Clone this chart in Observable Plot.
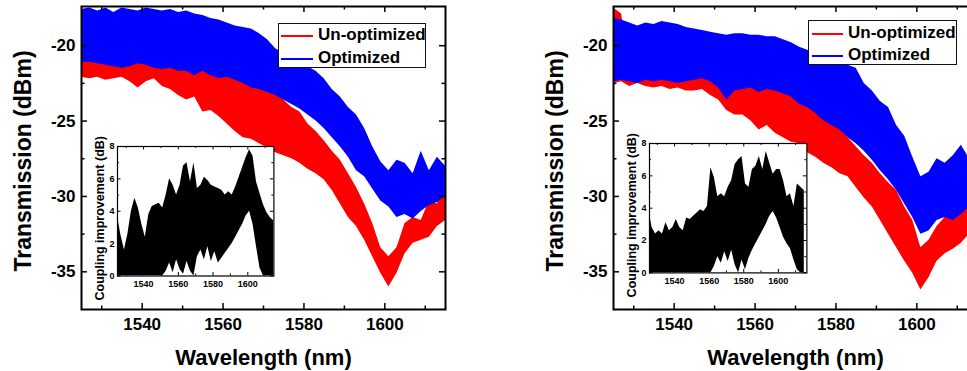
<!DOCTYPE html>
<html><head><meta charset="utf-8">
<script src="https://cdn.jsdelivr.net/npm/d3@7"></script>
<script src="https://cdn.jsdelivr.net/npm/@observablehq/plot@0.6"></script>
<style>
html,body{margin:0;padding:0;background:#fff;}
#wrap{position:relative;width:967px;height:371px;overflow:hidden;background:#fff;font-family:"Liberation Sans",Arial,Helvetica,sans-serif;}
#wrap svg{position:absolute;overflow:visible;}
.legend{position:absolute;background:#fff;border:1.5px solid #111;box-sizing:border-box;}
.legend .ln{position:absolute;height:2px;}
.legend .lb{position:absolute;font-size:17px;font-weight:bold;line-height:20px;color:#000;white-space:nowrap;}
</style></head>
<body><div id="wrap"></div>
<script>
// ---------------- data ----------------
const wavelength = [1525,1527,1529,1531,1533,1535,1537,1539,1541,1543,1545,1547,1549,1551,1553,1555,1557,1559,1561,1563,1565,1567,1569,1571,1573,1575,1577,1579,1581,1583,1585,1587,1589,1591,1593,1595,1597,1599,1601,1603,1605,1607,1609,1611,1613,1615];

// left panel, Un-optimized (red): upper / lower edge of the noisy trace (dBm)
const leftUnoptHi = [-20.8,-20.8,-20.9,-21.0,-21.1,-21.2,-21.1,-20.9,-21.0,-21.2,-21.3,-21.2,-21.4,-21.4,-21.7,-21.4,-21.7,-21.9,-21.8,-22.0,-22.2,-22.5,-22.6,-22.9,-23.1,-23.6,-24.1,-24.4,-25.2,-25.7,-26.3,-27.0,-27.6,-28.5,-29.4,-30.5,-31.8,-33.4,-34.0,-33.4,-31.8,-31.4,-31.6,-30.3,-30.5,-28.5];
const leftUnoptLo = [-22.1,-22.2,-22.1,-22.3,-22.2,-22.1,-22.4,-22.8,-22.4,-22.2,-22.7,-22.9,-23.3,-23.6,-23.4,-24.4,-24.3,-24.7,-25.2,-25.7,-26.1,-26.2,-26.5,-26.8,-27.1,-27.3,-27.5,-27.8,-28.2,-28.5,-28.9,-29.6,-30.5,-31.4,-32.0,-32.9,-34.0,-35.1,-36.0,-35.1,-33.8,-33.1,-32.9,-32.7,-32.0,-31.6];
// left panel, Optimized (blue)
const leftOptHi = [-17.6,-17.5,-17.7,-17.5,-17.8,-17.5,-17.6,-17.7,-17.5,-17.6,-17.7,-17.6,-17.8,-17.7,-17.9,-18.0,-18.2,-18.3,-18.5,-18.7,-18.8,-18.9,-19.2,-19.6,-20.2,-20.5,-20.8,-21.1,-21.4,-21.7,-22.2,-22.9,-23.4,-24.1,-24.6,-25.5,-26.7,-27.7,-28.3,-27.6,-27.8,-28.5,-27.0,-28.3,-27.4,-28.0];
const leftOptLo = [-21.1,-21.1,-21.2,-21.3,-21.4,-21.5,-21.4,-21.2,-21.3,-21.5,-21.6,-21.5,-21.7,-21.7,-22.0,-21.7,-22.0,-22.2,-22.1,-22.3,-22.5,-22.8,-22.9,-23.1,-23.3,-23.6,-23.9,-24.2,-24.6,-25.0,-25.5,-26.1,-26.7,-27.4,-28.3,-28.7,-29.5,-30.3,-30.7,-31.4,-31.2,-31.5,-31.0,-30.6,-30.4,-30.0];

// right panel, Un-optimized (red)
const rightUnoptHi = [-17.5,-17.9,-21.5,-21.8,-21.9,-21.7,-21.8,-21.9,-21.8,-21.7,-21.4,-21.4,-21.8,-22.0,-22.6,-22.5,-22.3,-22.4,-22.8,-22.5,-22.5,-22.9,-23.2,-23.3,-23.6,-24.1,-24.5,-25.0,-25.5,-26.1,-26.7,-27.3,-27.8,-28.5,-29.1,-29.6,-30.7,-31.6,-33.4,-32.9,-32.0,-31.4,-31.2,-30.5,-30.3,-30.3];
const rightUnoptLo = [-22.5,-22.4,-22.7,-22.5,-22.7,-22.8,-22.7,-22.9,-22.8,-23.0,-23.0,-22.9,-23.3,-23.6,-24.3,-24.6,-24.6,-25.0,-25.6,-25.3,-25.8,-26.1,-26.4,-26.5,-27.1,-27.4,-27.8,-28.1,-28.5,-28.7,-29.4,-30.1,-30.7,-31.6,-32.5,-33.4,-34.3,-35.1,-36.2,-35.4,-34.3,-33.8,-33.5,-33.1,-32.5,-32.5];
// right panel, Optimized (blue)
const rightOptHi = [-18.2,-18.3,-18.5,-18.7,-18.5,-18.6,-18.4,-18.5,-18.6,-18.8,-18.9,-19.0,-19.1,-19.2,-19.3,-19.2,-19.2,-19.3,-19.3,-19.4,-19.4,-19.6,-19.8,-20.1,-20.3,-20.6,-20.8,-21.0,-21.2,-21.3,-21.5,-22.5,-23.0,-23.7,-24.1,-25.3,-26.0,-27.4,-28.7,-28.4,-27.5,-27.8,-27.3,-26.6,-27.5,-27.6];
const rightOptLo = [-22.4,-22.3,-22.4,-22.5,-22.3,-22.4,-22.3,-22.4,-22.5,-22.4,-22.3,-22.2,-22.4,-22.8,-23.6,-23.0,-22.9,-22.8,-23.1,-22.9,-23.0,-23.2,-23.4,-23.9,-24.1,-24.5,-25.0,-25.3,-25.6,-26.1,-26.5,-27.0,-27.6,-28.3,-28.9,-29.6,-30.5,-31.4,-32.5,-32.3,-31.6,-31.4,-31.6,-31.2,-30.7,-30.7];

// insets: coupling improvement (dB), upper / lower edge
const leftInsetHi = [3.7,2.5,1.6,2.6,4.0,4.8,4.2,3.2,2.4,3.8,4.3,4.4,4.5,4.2,5.0,6.0,5.6,5.0,5.6,6.8,7.0,5.8,7.0,5.4,5.6,6.1,5.9,5.6,5.5,5.4,5.3,5.0,5.2,5.0,5.5,6.1,6.7,7.3,7.8,7.4,5.8,5.1,4.4,3.9,3.6,3.4];
const leftInsetLo = [0,0,0,0,0,0,0,0,0,0,0,0,0,0,0.3,0.8,0.2,1.0,0.4,0.1,0.9,0.3,0.0,1.2,1.6,1.0,1.8,0.9,1.5,0.8,1.1,1.4,1.7,2.0,2.4,2.8,3.2,3.7,4.0,3.2,1.8,0.5,0,0,0,0];
const rightInsetHi = [3.9,2.8,2.4,2.6,2.4,3.1,2.6,2.8,3.3,2.8,2.6,3.4,3.3,3.5,3.7,3.9,3.8,4.1,6.5,5.9,4.7,4.9,4.7,5.3,5.7,6.7,7.0,7.2,5.5,5.3,6.4,6.6,7.2,6.4,7.5,6.8,6.1,6.4,6.4,5.7,4.7,4.9,4.1,5.5,5.3,5.1];
const rightInsetLo = [0,0,0,0,0,0,0,0,0,0,0,0,0,0,0,0,0,0,0,0.4,1.0,0.6,1.3,0.7,1.4,0.5,0.0,0.8,0.2,0.9,1.4,1.8,2.2,2.6,3.0,3.5,3.8,3.4,2.8,2.2,1.8,1.5,0.8,0.2,0,0];

// axes / ticks / labels
const xMajor = [1540,1560,1580,1600];
const xMinor = [1530,1550,1570,1590,1610];
const yMajor = [-20,-25,-30,-35];
const yMinor = [-22.5,-27.5,-32.5];
const insetYMajor = [0,2,4,6,8];
const insetYMinor = [1,3,5,7];
const xTitle = "Wavelength (nm)";
const yTitle = "Transmission (dBm)";
const insetTitle = "Coupling improvement (dB)";
const seriesNames = ["Un-optimized","Optimized"];
const seriesColors = ["#ff0000","#0000ff"];

// ---------------- drawing ----------------
const FONT = '"Liberation Sans", Arial, Helvetica, sans-serif';
const wrap = document.getElementById("wrap");

function mainPanel(hiR, loR, hiB, loB, leftPx) {
  const mT = 6, mB = 62, mL = 81, mR = 25, H = 371, innerW = 364;
  const innerH = H - mT - mB;
  const rows = wavelength.map((w, i) => ({w, rHi: hiR[i], rLo: loR[i], bHi: hiB[i], bLo: loB[i]}));
  const tk = {stroke: "black", strokeWidth: 1.5};
  const svg = Plot.plot({
    width: mL + innerW + mR, height: H,
    marginTop: mT, marginBottom: mB, marginLeft: mL, marginRight: mR,
    x: {domain: [1525, 1615]},
    y: {domain: [-37.5, -17.4]},
    style: {background: "transparent", fontFamily: FONT, fontWeight: "bold", color: "black", overflow: "visible"},
    marks: [
      Plot.areaY(rows, {x: "w", y1: "rLo", y2: "rHi", fill: seriesColors[0], clip: true}),
      Plot.areaY(rows, {x: "w", y1: "bLo", y2: "bHi", fill: seriesColors[1], clip: true}),
      Plot.tickX(xMajor, {x: d => d, insetTop: innerH - 6, ...tk}),
      Plot.tickX(xMajor, {x: d => d, insetBottom: innerH - 6, ...tk}),
      Plot.tickX(xMinor, {x: d => d, insetTop: innerH - 3.5, ...tk}),
      Plot.tickX(xMinor, {x: d => d, insetBottom: innerH - 3.5, ...tk}),
      Plot.tickY(yMajor, {y: d => d, insetRight: innerW - 6, ...tk}),
      Plot.tickY(yMajor, {y: d => d, insetLeft: innerW - 6, ...tk}),
      Plot.tickY(yMinor, {y: d => d, insetRight: innerW - 3.5, ...tk}),
      Plot.tickY(yMinor, {y: d => d, insetLeft: innerW - 3.5, ...tk}),
      Plot.frame({stroke: "black", strokeWidth: 2}),
      Plot.axisX(xMajor, {tickSize: 0, tickPadding: 8, fontSize: 17, fontWeight: "bold", label: null, tickFormat: d => String(d)}),
      Plot.axisY(yMajor, {tickSize: 0, tickPadding: 6, fontSize: 17, fontWeight: "bold", label: null, tickFormat: d => String(d)}),
      Plot.text([xTitle], {text: d => d, frameAnchor: "bottom", textAnchor: "middle", lineAnchor: "middle", dy: 48, fontSize: 22, fontWeight: "bold"}),
      Plot.text([yTitle], {text: d => d, frameAnchor: "left", textAnchor: "middle", lineAnchor: "middle", dx: -58, dy: 3, rotate: -90, fontSize: 23, fontWeight: "bold"})
    ]
  });
  svg.style.left = leftPx + "px";
  svg.style.top = "0px";
  wrap.appendChild(svg);
}

function insetPanel(hi, lo, frameLeft, frameTop, frameW, frameH, xDom) {
  const mL = 36, mT = 16, mR = 6, mB = 22;
  const rows = wavelength.map((w, i) => ({w, hi: hi[i], lo: lo[i]}));
  const tk = {stroke: "black", strokeWidth: 1};
  const svg = Plot.plot({
    width: mL + frameW + mR, height: mT + frameH + mB,
    marginTop: mT, marginBottom: mB, marginLeft: mL, marginRight: mR,
    x: {domain: xDom},
    y: {domain: [0, 8]},
    style: {background: "transparent", fontFamily: FONT, fontWeight: "bold", color: "black", overflow: "visible"},
    marks: [
      Plot.frame({fill: "white"}),
      Plot.areaY(rows, {x: "w", y1: "lo", y2: "hi", fill: "black", clip: true}),
      Plot.tickX(xMajor, {x: d => d, insetTop: frameH - 3.5, ...tk}),
      Plot.tickX(xMajor, {x: d => d, insetBottom: frameH - 3.5, ...tk}),
      Plot.tickX(xMinor, {x: d => d, insetTop: frameH - 2, ...tk}),
      Plot.tickX(xMinor, {x: d => d, insetBottom: frameH - 2, ...tk}),
      Plot.tickY(insetYMajor, {y: d => d, insetRight: frameW - 3.5, ...tk}),
      Plot.tickY(insetYMajor, {y: d => d, insetLeft: frameW - 3.5, ...tk}),
      Plot.tickY(insetYMinor, {y: d => d, insetRight: frameW - 2, ...tk}),
      Plot.tickY(insetYMinor, {y: d => d, insetLeft: frameW - 2, ...tk}),
      Plot.frame({stroke: "black", strokeWidth: 1.2}),
      Plot.axisX(xMajor, {tickSize: 0, tickPadding: 5, fontSize: 9, fontWeight: "bold", label: null, tickFormat: d => String(d)}),
      Plot.axisY(insetYMajor, {tickSize: 0, tickPadding: 3, fontSize: 9, fontWeight: "bold", label: null, tickFormat: d => String(d)}),
      Plot.text([insetTitle], {text: d => d, frameAnchor: "left", textAnchor: "middle", lineAnchor: "middle", dx: -17.5, dy: 7, rotate: -90, fontSize: 12.5, fontWeight: "bold"})
    ]
  });
  svg.style.left = (frameLeft - mL) + "px";
  svg.style.top = (frameTop - mT) + "px";
  wrap.appendChild(svg);
}

function legend(left, top, w, h, lineX0, lineX1, textX, rowYs) {
  const box = document.createElement("div");
  box.className = "legend";
  Object.assign(box.style, {left: left + "px", top: top + "px", width: w + "px", height: h + "px"});
  seriesNames.forEach((name, i) => {
    const ln = document.createElement("div");
    ln.className = "ln";
    Object.assign(ln.style, {left: (lineX0 - left) + "px", width: (lineX1 - lineX0) + "px", top: (rowYs[i] - top - 1) + "px", background: seriesColors[i]});
    const lb = document.createElement("div");
    lb.className = "lb";
    lb.textContent = name;
    Object.assign(lb.style, {left: (textX - left) + "px", top: (rowYs[i] - top - 11) + "px"});
    box.appendChild(ln);
    box.appendChild(lb);
  });
  wrap.appendChild(box);
}

mainPanel(leftUnoptHi, leftUnoptLo, leftOptHi, leftOptLo, 0);
mainPanel(rightUnoptHi, rightUnoptLo, rightOptHi, rightOptLo, 532);
insetPanel(leftInsetHi, leftInsetLo, 117.3, 146, 156.4, 129.5, [1525, 1615]);
insetPanel(rightInsetHi, rightInsetLo, 649.3, 143.3, 157.4, 129.4, [1525.5, 1616.5]);
legend(278, 23, 148, 45, 280, 312, 317, [35, 58]);
legend(808, 20, 149, 45, 811, 842, 847, [33, 55]);
</script>
</body></html>
